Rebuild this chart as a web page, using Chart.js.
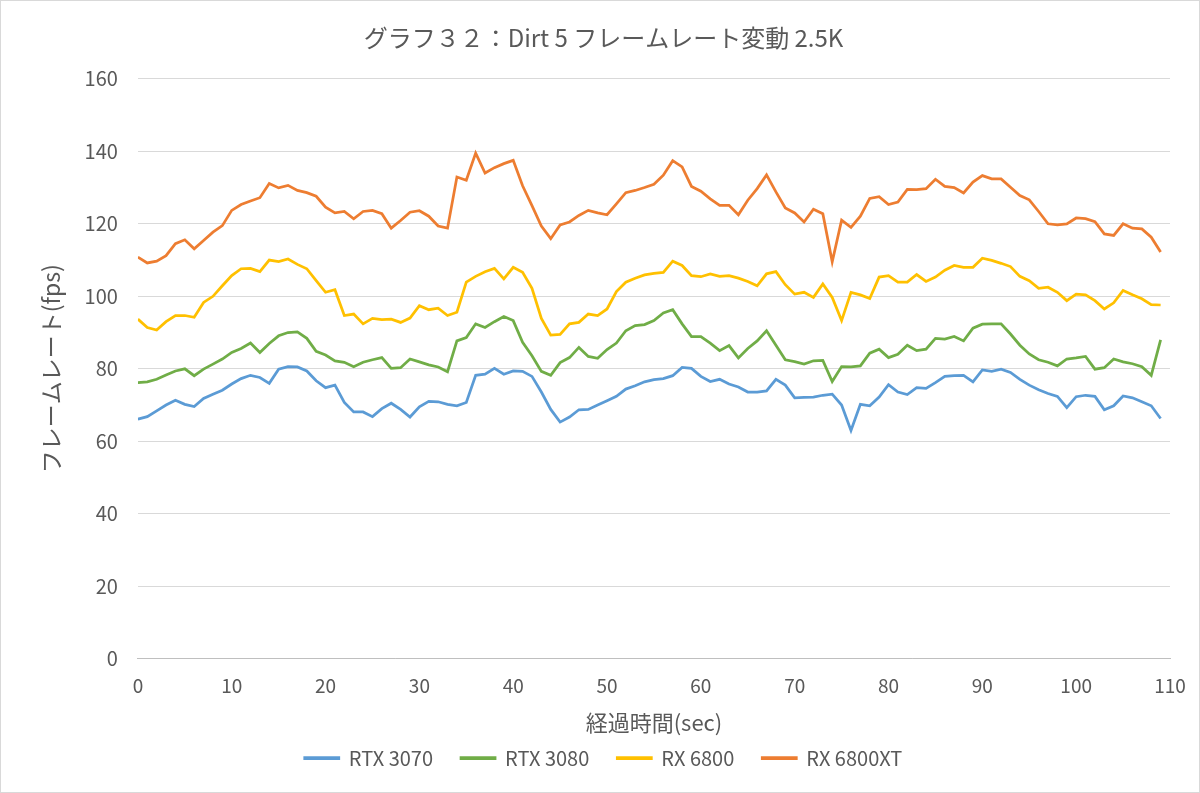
<!DOCTYPE html>
<html>
<head>
<meta charset="utf-8">
<script src="https://cdn.jsdelivr.net/npm/chart.js@4.4.0/dist/chart.umd.min.js"></script>
<style>
  body { margin: 0; background: #ffffff; }
</style>
</head>
<body>
<canvas id="chart-area" width="1200" height="793"></canvas>
<script>
// seconds along the run
let seconds = [0, 1, 2, 3, 4, 5, 6, 7, 8, 9, 10, 11, 12, 13, 14, 15, 16, 17, 18, 19,
  20, 21, 22, 23, 24, 25, 26, 27, 28, 29, 30, 31, 32, 33, 34, 35, 36, 37, 38, 39,
  40, 41, 42, 43, 44, 45, 46, 47, 48, 49, 50, 51, 52, 53, 54, 55, 56, 57, 58, 59,
  60, 61, 62, 63, 64, 65, 66, 67, 68, 69, 70, 71, 72, 73, 74, 75, 76, 77, 78, 79,
  80, 81, 82, 83, 84, 85, 86, 87, 88, 89, 90, 91, 92, 93, 94, 95, 96, 97, 98, 99,
  100, 101, 102, 103, 104, 105, 106, 107, 108, 109];

let labels = ['RTX 3070', 'RTX 3080', 'RX 6800', 'RX 6800XT'];

let rtx3070 = [66.1, 66.8, 68.4, 70, 71.3, 70.2, 69.6, 71.8, 73, 74.1,
  75.8, 77.3, 78.2, 77.6, 76, 79.9, 80.6, 80.5, 79.4, 76.7,
  74.8, 75.5, 70.7, 68.1, 68.1, 66.8, 69, 70.5, 68.8, 66.7,
  69.5, 71, 70.9, 70.2, 69.8, 70.7, 78.2, 78.5, 80.1, 78.5,
  79.4, 79.3, 77.9, 73.6, 68.8, 65.3, 66.7, 68.7, 68.8, 70,
  71.2, 72.4, 74.4, 75.3, 76.4, 77, 77.3, 78.1, 80.4, 80.1,
  77.9, 76.5, 77.1, 75.8, 75, 73.6, 73.6, 73.9, 77.1, 75.5,
  72, 72.1, 72.2, 72.7, 73, 70, 63, 70.2, 69.8, 72.2,
  75.6, 73.6, 72.9, 74.8, 74.6, 76.2, 77.9, 78.1, 78.2, 76.4,
  79.7, 79.3, 79.9, 79, 77.1, 75.5, 74.2, 73.2, 72.4, 69.3,
  72.3, 72.7, 72.4, 68.7, 69.8, 72.5, 72, 70.9, 69.8, 66.3];

let rtx3080 = [76.2, 76.4, 77.1, 78.3, 79.4, 80, 78.1, 79.9, 81.3, 82.7,
  84.5, 85.6, 87.1, 84.5, 87, 89.1, 90, 90.2, 88.4, 84.8,
  83.8, 82.2, 81.8, 80.6, 81.8, 82.5, 83.1, 80.1, 80.3, 82.7,
  81.9, 81.1, 80.5, 79.2, 87.7, 88.6, 92.4, 91.4, 93, 94.4,
  93.3, 87.3, 83.6, 79.3, 78.2, 81.7, 83.1, 85.9, 83.4, 82.9,
  85.3, 87.1, 90.5, 91.9, 92.2, 93.3, 95.4, 96.3, 92.4, 88.9,
  88.9, 87.1, 85, 86.4, 83, 85.6, 87.7, 90.5, 86.5, 82.5,
  82, 81.3, 82.2, 82.3, 76.5, 80.6, 80.5, 80.8, 84.3, 85.4,
  83.1, 84, 86.5, 85, 85.4, 88.4, 88.2, 88.9, 87.7, 91.2,
  92.3, 92.4, 92.4, 89.6, 86.5, 84.1, 82.5, 81.8, 80.8, 82.7,
  83, 83.4, 79.9, 80.3, 82.7, 81.9, 81.4, 80.6, 78.2, 88];

let rx6800 = [93.7, 91.4, 90.7, 93, 94.7, 94.7, 94.2, 98.3, 100, 102.9,
  105.7, 107.6, 107.7, 106.8, 110, 109.6, 110.3, 108.8, 107.6, 104.3,
  101.1, 101.8, 94.7, 95.1, 92.4, 93.9, 93.6, 93.7, 92.8, 94,
  97.4, 96.3, 96.7, 94.7, 95.6, 103.9, 105.5, 106.8, 107.7, 104.8,
  108, 106.6, 102.2, 93.9, 89.3, 89.5, 92.4, 92.8, 95.1, 94.7,
  96.5, 101.3, 103.9, 105, 105.9, 106.3, 106.6, 109.7, 108.5, 105.7,
  105.4, 106.2, 105.5, 105.7, 105, 104.1, 102.9, 106.2, 106.8, 103.2,
  100.6, 101.1, 99.7, 103.4, 99.7, 93.3, 101.1, 100.4, 99.4, 105.3,
  105.7, 103.9, 103.9, 106, 104.1, 105.3, 107.2, 108.5, 108, 108,
  110.5, 109.9, 109.1, 108.2, 105.5, 104.3, 102.2, 102.5, 101.1, 98.8,
  100.6, 100.4, 98.8, 96.5, 98.2, 101.6, 100.4, 99.3, 97.7, 97.6];

let rx6800xt = [110.8, 109.2, 109.7, 111.2, 114.5, 115.6, 113.1, 115.4, 117.7, 119.5,
  123.7, 125.3, 126.3, 127.2, 131.1, 129.9, 130.6, 129.2, 128.6, 127.6,
  124.6, 123, 123.4, 121.4, 123.4, 123.7, 122.8, 118.8, 120.9, 123.2,
  123.6, 122.1, 119.4, 118.8, 132.9, 132, 139.5, 134, 135.5, 136.6,
  137.5, 130.5, 125, 119.4, 115.9, 119.7, 120.5, 122.3, 123.7, 123,
  122.5, 125.5, 128.6, 129.2, 130, 130.9, 133.4, 137.4, 135.7, 130.3,
  129, 126.9, 125.1, 125.1, 122.5, 126.5, 129.7, 133.5, 128.8, 124.4,
  123, 120.5, 124, 122.8, 109.5, 121, 119, 122.1, 127, 127.5,
  125.3, 126, 129.5, 129.4, 129.7, 132.3, 130.3, 130, 128.5, 131.5,
  133.3, 132.4, 132.4, 130.1, 127.8, 126.6, 123.4, 120, 119.7, 120,
  121.6, 121.4, 120.6, 117.2, 116.8, 120, 118.8, 118.6, 116.3, 112.2];

let colors = ['#5b9bd5', '#70ad47', '#ffc000', '#ed7d31'];

let textColor = '#595959';
let fontName = '"Noto Sans CJK JP", "Noto Sans", sans-serif';

function toPoints(values) {
  return values.map(function (v, i) {
    return { x: seconds[i], y: v };
  });
}

let allSeries = [rtx3070, rtx3080, rx6800, rx6800xt];
let datasets = allSeries.map(function (values, i) {
  return {
    label: labels[i],
    data: toPoints(values),
    borderColor: colors[i],
    backgroundColor: colors[i],
    borderWidth: 2.75,
    pointRadius: 0,
    tension: 0
  };
});

// white page with a thin frame, like the exported picture
const pageBackground = {
  id: 'pageBackground',
  beforeDraw: function (chart) {
    const c = chart.ctx;
    c.save();
    c.fillStyle = '#ffffff';
    c.fillRect(0, 0, chart.width, chart.height);
    c.strokeStyle = '#d9d9d9';
    c.lineWidth = 1;
    c.strokeRect(0.5, 0.5, chart.width - 1, chart.height - 1);
    c.restore();
  }
};

Chart.defaults.font.family = fontName;
Chart.defaults.color = textColor;

var ctx = document.getElementById('chart-area').getContext('2d');
var chart = new Chart(ctx, {
  type: 'line',
  data: { datasets: datasets },
  plugins: [pageBackground],
  options: {
    responsive: false,
    animation: false,
    layout: { padding: { left: 37, right: 30, top: 0, bottom: 15 } },
    plugins: {
      title: {
        display: true,
        text: 'グラフ３２：Dirt 5 フレームレート変動 2.5K',
        color: textColor,
        font: { size: 24, weight: 'normal' },
        padding: { top: 23, bottom: 27 }
      },
      legend: {
        position: 'bottom',
        labels: {
          color: textColor,
          font: { size: 20 },
          boxWidth: 34,
          boxHeight: 1,
          padding: 28
        }
      },
      tooltip: { enabled: false }
    },
    scales: {
      x: {
        type: 'linear',
        min: 0,
        max: 110,
        ticks: { stepSize: 10, color: textColor, font: { size: 19 }, padding: 8 },
        grid: { display: false },
        border: { color: '#bfbfbf' },
        title: {
          display: true,
          text: '経過時間(sec)',
          color: textColor,
          font: { size: 22 },
          padding: { top: 4, bottom: -16 }
        }
      },
      y: {
        min: 0,
        max: 160,
        ticks: { stepSize: 20, color: textColor, font: { size: 20 }, padding: 20 },
        grid: { color: '#d9d9d9', drawTicks: false, lineWidth: 1 },
        border: { display: false },
        title: {
          display: true,
          text: 'フレームレート(fps)',
          color: textColor,
          font: { size: 23 },
          padding: { top: 0, bottom: 0 }
        }
      }
    }
  }
});
</script>
</body>
</html>
